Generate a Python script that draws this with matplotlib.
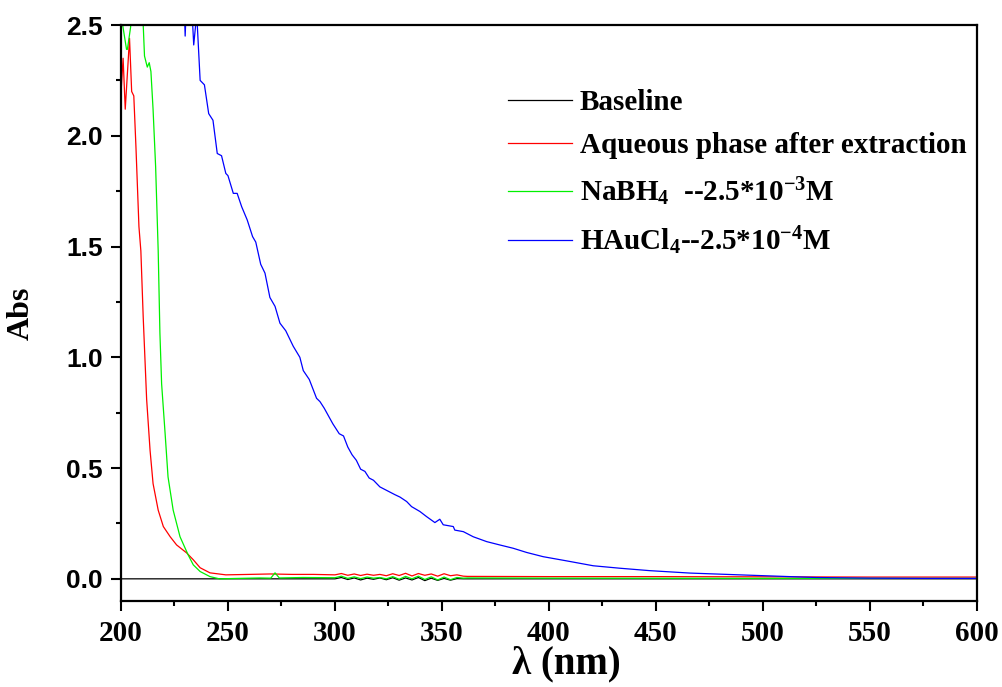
import matplotlib
matplotlib.use("Agg")
import matplotlib.pyplot as plt
from matplotlib.ticker import MultipleLocator, FormatStrFormatter

# wavelength (nm) / absorbance
wl_base = [200, 250, 300, 303, 306, 309, 312, 315, 318, 321, 324, 327, 330, 333, 336, 339, 342, 345, 348, 351, 354, 357, 360, 400, 500, 600]
abs_base = [0.0, 0.0, 0.0, 0.006, -0.003, 0.004, -0.005, 0.003, -0.002, 0.004, -0.004, 0.005, -0.006, 0.004, -0.005, 0.006, -0.008, 0.003, -0.007, 0.002, -0.006, 0.001, 0.0, 0.0, 0.0, 0.0]

wl_aq = [200, 201, 202, 204, 205, 206, 207, 208.4, 209.3, 210.4, 212, 213.6, 215, 217.4, 219.8, 223, 226, 230.7, 233.8, 237, 241.6, 249, 260, 270, 280, 290,
         300, 303, 306, 309, 312, 315, 318, 321, 324, 327, 330, 333, 336, 339, 342, 345, 348, 351, 354, 357, 360, 362, 400, 450, 500, 550, 600]
abs_aq = [2.19, 2.35, 2.12, 2.44, 2.20, 2.18, 1.95, 1.59, 1.48, 1.18, 0.81, 0.58, 0.43, 0.31, 0.236, 0.19, 0.153, 0.117, 0.086, 0.05, 0.027, 0.018, 0.02, 0.022, 0.02, 0.02,
          0.018, 0.024, 0.016, 0.022, 0.015, 0.021, 0.016, 0.020, 0.014, 0.023, 0.015, 0.025, 0.013, 0.024, 0.016, 0.022, 0.012, 0.023, 0.014, 0.018, 0.012, 0.011, 0.010, 0.010, 0.009, 0.008, 0.008]

wl_nabh4 = [200, 200.8, 202.6, 203, 204.5, 205, 210, 210.4, 211, 212.3, 213.2, 214, 215, 216.2, 217.4, 218.2, 219, 220.6, 222, 224.4, 227.6, 231.4, 233.8, 237, 241.6, 246, 255, 265, 270, 272, 274, 285,
            300, 303, 306, 309, 312, 315, 318, 321, 324, 327, 330, 333, 336, 339, 342, 345, 348, 351, 354, 357, 360, 362, 400, 500, 600]
abs_nabh4 = [2.6, 2.5, 2.39, 2.39, 2.49, 2.6, 2.6, 2.5, 2.36, 2.31, 2.33, 2.29, 2.12, 1.86, 1.48, 1.11, 0.88, 0.66, 0.46, 0.31, 0.19, 0.108, 0.063, 0.033, 0.01, 0.0, 0.002, 0.004, 0.003, 0.027, 0.004, 0.006,
             0.005, 0.012, 0.002, 0.009, 0.001, 0.008, 0.003, 0.006, 0.0, 0.010, -0.002, 0.011, 0.0, 0.012, -0.003, 0.009, -0.005, 0.008, -0.004, 0.006, 0.003, 0.004, 0.003, 0.002, 0.002]

wl_hau = [229.5, 230, 230.6, 233, 234, 235.4, 237, 239, 241, 243, 245, 247, 249, 250, 252.5, 254.3, 256.4, 259, 261.5, 263, 265.3, 267.3, 269.6, 272, 274.3, 277, 280.5, 283.6, 285.2, 288, 291.4,
          293, 295, 297, 299, 302, 304, 306, 308, 310, 312, 314, 316, 318, 321, 323, 326, 328,
          330.4, 333.5, 335.8, 339.7, 342.8, 346.7, 349, 350.6, 355.3, 356, 360, 364.6, 370.9, 377, 383.3, 389.6, 397.3, 408.3, 420.7, 433, 447, 465.9, 489, 512.6, 525, 550, 575, 600]
abs_hau = [2.6, 2.45, 2.6, 2.6, 2.41, 2.55, 2.25, 2.23, 2.10, 2.07, 1.92, 1.91, 1.83, 1.82, 1.74, 1.74, 1.68, 1.62, 1.545, 1.52, 1.42, 1.38, 1.27, 1.23, 1.154, 1.12, 1.05, 1.00, 0.94, 0.90, 0.815,
           0.80, 0.77, 0.735, 0.70, 0.655, 0.645, 0.595, 0.56, 0.535, 0.495, 0.485, 0.455, 0.445, 0.415, 0.405, 0.39, 0.38,
           0.369, 0.349, 0.326, 0.304, 0.281, 0.254, 0.269, 0.244, 0.236, 0.22, 0.213, 0.19, 0.168, 0.153, 0.138, 0.119, 0.10, 0.081, 0.059, 0.048, 0.037, 0.026, 0.018, 0.010, 0.006, 0.003, 0.002, 0.002]

labels = ["Baseline", "Aqueous phase after extraction",
          r"NaBH$_4$  --2.5*10$^{-3}$M", r"HAuCl$_4$--2.5*10$^{-4}$M"]

plt.rcParams['font.family'] = ['Liberation Serif', 'DejaVu Serif']
plt.rcParams['font.weight'] = 'bold'
plt.rcParams['mathtext.fontset'] = 'custom'
plt.rcParams['mathtext.rm'] = 'Liberation Serif:bold'
plt.rcParams['mathtext.it'] = 'Liberation Serif:bold'
plt.rcParams['mathtext.bf'] = 'Liberation Serif:bold'

fig = plt.figure(figsize=(10.03, 6.87), dpi=100)
ax = fig.add_axes([0.1206, 0.1252, 0.8534, 0.8384])

ax.plot(wl_base, abs_base, color='black', lw=0.9, label=labels[0])
ax.plot(wl_aq, abs_aq, color='#ff0000', lw=0.9, label=labels[1])
ax.plot(wl_nabh4, abs_nabh4, color='#00f000', lw=0.9, label=labels[2])
ax.plot(wl_hau, abs_hau, color='#0000ff', lw=0.9, label=labels[3])

ax.set_xlim(200, 600)
ax.set_ylim(-0.1, 2.5)
ax.xaxis.set_major_locator(MultipleLocator(50))
ax.xaxis.set_minor_locator(MultipleLocator(25))
ax.yaxis.set_major_locator(MultipleLocator(0.5))
ax.yaxis.set_minor_locator(MultipleLocator(0.25))
ax.yaxis.set_major_formatter(FormatStrFormatter('%.1f'))

for s in ax.spines.values():
    s.set_linewidth(1.6)
ax.tick_params(which='major', direction='out', length=7, width=1.5, top=False, right=False)
ax.tick_params(which='minor', direction='out', length=3.8, width=1.5, top=False, right=False)
ax.tick_params(axis='x', labelsize=21, pad=7)
ax.tick_params(axis='y', labelsize=19, pad=6)
for t in ax.get_yticklabels():
    t.set_family('Liberation Sans')
    t.set_weight('bold')

ax.set_xlabel("λ (nm)", fontsize=28, fontweight='bold')
ax.xaxis.set_label_coords(0.52, -0.078)
ax.set_ylabel("Abs", fontsize=23, fontweight='bold')
ax.yaxis.set_label_coords(-0.099, 0.5)

leg = ax.legend(loc='upper left', bbox_to_anchor=(0.438, 0.909), frameon=False,
                fontsize=21, handlelength=2.2, handletextpad=0.28, labelspacing=0.55,
                borderaxespad=0)

fig.savefig("out.png", dpi=100)
